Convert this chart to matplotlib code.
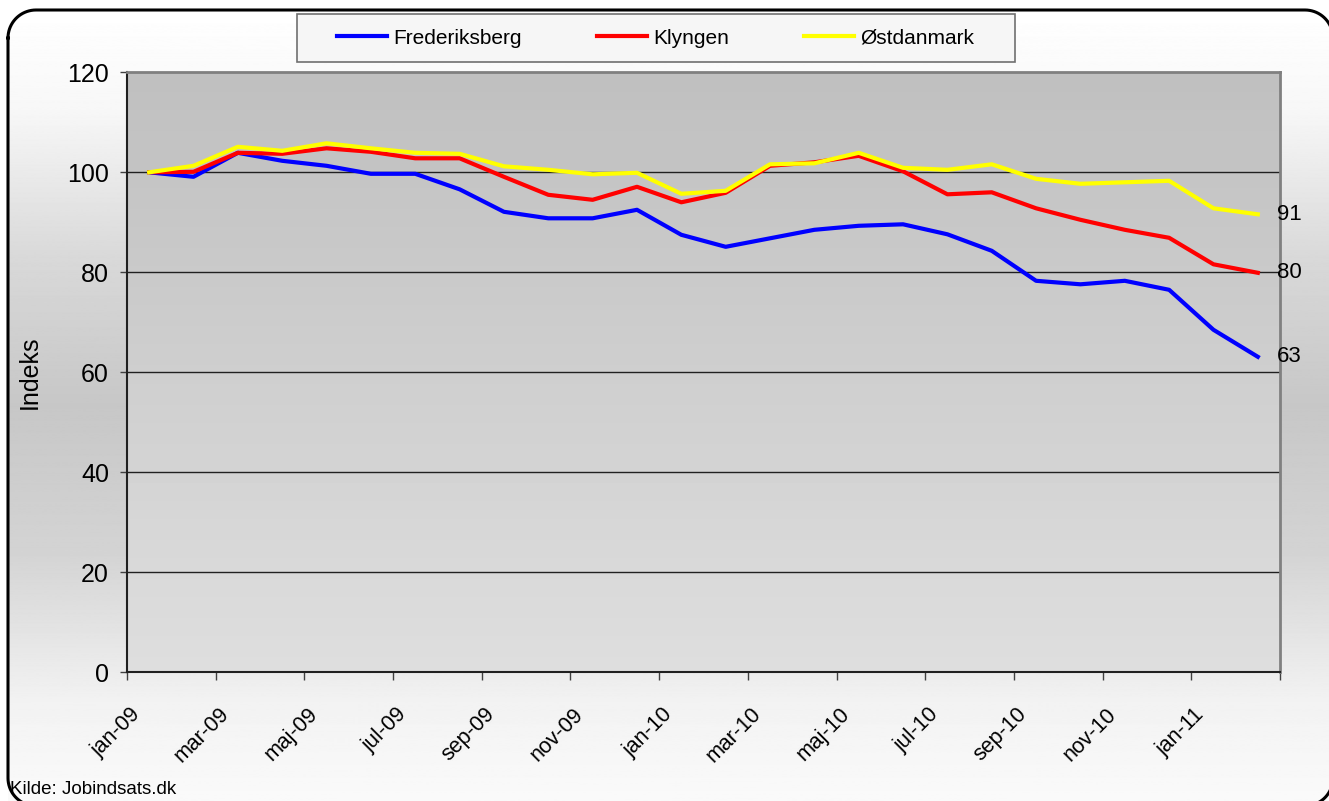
import numpy as np
import matplotlib
matplotlib.use("Agg")
import matplotlib.pyplot as plt
from matplotlib.patches import Rectangle
from matplotlib.lines import Line2D
import matplotlib.transforms as mtransforms

plt.rcParams['font.family'] = ['Liberation Sans', 'DejaVu Sans']

# months jan-09 .. feb-11
months = ['jan-09', 'feb-09', 'mar-09', 'apr-09', 'maj-09', 'jun-09', 'jul-09', 'aug-09',
          'sep-09', 'okt-09', 'nov-09', 'dec-09', 'jan-10', 'feb-10', 'mar-10', 'apr-10',
          'maj-10', 'jun-10', 'jul-10', 'aug-10', 'sep-10', 'okt-10', 'nov-10', 'dec-10',
          'jan-11', 'feb-11']
frederiksberg = [100, 99.1, 103.9, 102.3, 101.3, 99.7, 99.7, 96.6, 92.1, 90.8, 90.8, 92.5, 87.5,
                 85.1, 86.8, 88.5, 89.3, 89.6, 87.6, 84.3, 78.3, 77.6, 78.3, 76.5, 68.5, 63.1]
klyngen = [100, 100.1, 103.9, 103.7, 104.8, 104.1, 102.8, 102.8, 99.1, 95.5, 94.5, 97.1, 94.0,
           95.9, 101.3, 102.0, 103.3, 100.2, 95.6, 96.0, 92.8, 90.5, 88.5, 86.9, 81.6, 79.9]
ostdanmark = [100, 101.3, 105.1, 104.3, 105.8, 104.8, 103.9, 103.7, 101.2, 100.5, 99.6, 99.9, 95.7,
              96.3, 101.6, 101.8, 103.9, 100.9, 100.5, 101.6, 98.7, 97.7, 98.0, 98.3, 92.8, 91.6]
series_names = ['Frederiksberg', 'Klyngen', 'Østdanmark']
end_labels = ['63', '80', '91']

W, H = 1329, 801
fig = plt.figure(figsize=(W / 100, H / 100), dpi=100)

# background with vertical gradient (pixel coords, y down)
bg = fig.add_axes([0, 0, 1, 1], zorder=-5)
yy = np.arange(H)
shade = np.interp(yy, [0, 100, 250, 400, 550, 700, 801], [1.0, 0.97, 0.85, 0.78, 0.83, 0.95, 0.98])
img = np.repeat(shade[:, None], 2, axis=1)
bg.imshow(img, cmap='gray', vmin=0, vmax=1, extent=[8, W + 20, H, 10], aspect='auto', zorder=0)
bg.set_xlim(0, W)
bg.set_ylim(H, 0)
bg.axis('off')

# rounded outer frame as a polyline
x0, y0, x1, y1, r = 8, 10, 1333, 806, 28
t = np.linspace(0, np.pi / 2, 20)
fx = np.concatenate([x0 + r - r * np.sin(t[::-1]), x1 - r + r * np.sin(t),
                     x1 - r + r * np.cos(t), x0 + r - r * np.cos(t[::-1]), [x0]])
fy = np.concatenate([y0 + r - r * np.cos(t[::-1]), y0 + r - r * np.cos(t),
                     y1 - r + r * np.sin(t), y1 - r + r * np.sin(t[::-1]), [y0 + r]])
bg.plot(fx, fy, color='black', linewidth=2.2, zorder=2, clip_on=False, solid_joinstyle='round')

# legend box
bg.add_patch(Rectangle((297, 14), 718, 48, facecolor='#f6f6f6', edgecolor='#707070', linewidth=1.2, zorder=3))
bg.text(10, 790, 'Kilde: Jobindsats.dk', fontsize=13.5, ha='left', va='center', zorder=3)

# main plot
ax = fig.add_axes([127 / W, 1 - 672.3 / H, (1280 - 127) / W, (672.3 - 72.3) / H])
x = np.arange(len(months))
grad = np.linspace(0.75, 0.87, 200)[:, None]
ax.imshow(grad, cmap='gray', vmin=0, vmax=1, extent=[-0.5, len(months) - 0.5, 0, 120],
          origin='upper', aspect='auto', zorder=0)
ax.set_xlim(-0.5, len(months) - 0.5)
ax.set_ylim(0, 120)

for v in [20, 40, 60, 80, 100]:
    ax.axhline(v, color='#202020', linewidth=1, zorder=1)

ax.plot(x, frederiksberg, color='#0000ff', linewidth=3, zorder=3)
ax.plot(x, klyngen, color='#ff0000', linewidth=3, zorder=4)
ax.plot(x, ostdanmark, color='#ffff00', linewidth=3, zorder=5)

last = [frederiksberg[-1], klyngen[-1], ostdanmark[-1]]
for val, lab in zip(last, end_labels):
    ax.annotate(lab, (x[-1], val), xytext=(14, 0), textcoords='offset points',
                fontsize=16, ha='left', va='center', annotation_clip=False)

ax.set_yticks([0, 20, 40, 60, 80, 100, 120])
ax.tick_params(axis='y', direction='out', length=5, width=1, labelsize=18, pad=8, color='#404040')
ax.set_ylabel('Indeks', fontsize=18)
ax.yaxis.set_label_coords(-0.0737, 0.5)

ax.set_xticks(np.arange(-0.5, len(months), 2))
ax.set_xticklabels([])
ax.tick_params(axis='x', which='major', direction='out', length=6, width=1, color='#404040')
ax.set_xticks(x[::2], [months[i] for i in x[::2]], minor=True)
ax.tick_params(axis='x', which='minor', length=0, pad=28, labelsize=15.5)
offset = mtransforms.ScaledTranslation(-12 / 100, 0, fig.dpi_scale_trans)
for lbl in ax.get_xticklabels(minor=True):
    lbl.set_rotation(45)
    lbl.set_ha('right')
    lbl.set_va('center')
    lbl.set_rotation_mode('anchor')
    lbl.set_transform(lbl.get_transform() + offset)

for s in ['left', 'bottom']:
    ax.spines[s].set_color('#202020')
    ax.spines[s].set_linewidth(1.5)
for s in ['top', 'right']:
    ax.spines[s].set_color('#808080')
    ax.spines[s].set_linewidth(2)

handles = [Line2D([], [], color=c, linewidth=3) for c in ['#0000ff', '#ff0000', '#ffff00']]
fig.legend(handles, series_names, loc='center', bbox_to_anchor=(656 / W, 1 - 38 / H),
           ncol=3, frameon=False, fontsize=15, handlelength=2.4, handletextpad=0.3,
           columnspacing=3.6)

fig.savefig('out.png', dpi=100)
